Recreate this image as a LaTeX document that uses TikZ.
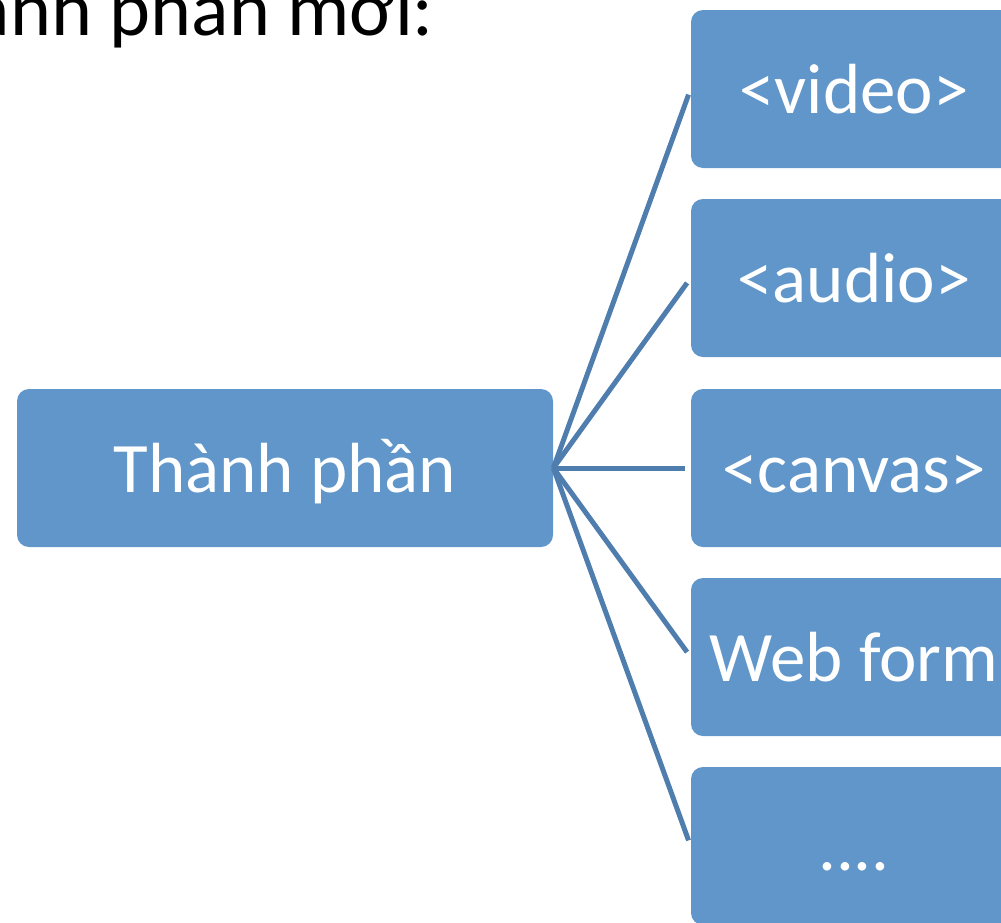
\documentclass[tikz,border=0pt]{standalone}
\usepackage{fontspec}
\setmainfont{Carlito}
\definecolor{boxblue}{RGB}{96,150,201}
\definecolor{linkblue}{RGB}{79,126,174}
\usetikzlibrary{positioning}
\tikzset{%
  item/.style={fill=boxblue, rounded corners=6pt, text=white, inner sep=0pt,
    font=\fontsize{35.5}{40}\selectfont, minimum height=79pt,
    text height=30pt, text depth=6pt},% blue box
  root/.style={item, minimum width=268pt},% left box
  leaf/.style={item, minimum width=163pt},% right boxes
  link/.style={draw=linkblue, line width=2.5pt, shorten >=3pt}% connector
}

\begin{document}
\begin{tikzpicture}[x=0.5pt, y=-0.5pt]
\useasboundingbox (0,0) rectangle (1001,922);
\clip (0,0) rectangle (1001,922);

\node[anchor=base east, font=\fontsize{39}{44}\selectfont] (title) at (441,35) {ành phần mới:};

\node[root] (part) at (285,468) {Thành phần};
\node[leaf] (video) at (854,89) {<video>};
\node[leaf] (audio) at (854,278) {<audio>};
\node[leaf] (canvas) at (854,468) {<canvas>};
\node[leaf] (form) at (854,657) {Web form};
\node[leaf] (more) at (854,846) {....};

\draw[link] (part.east) -- (video.west);
\draw[link] (part.east) -- (audio.west);
\draw[link] (part.east) -- (canvas.west);
\draw[link] (part.east) -- (form.west);
\draw[link] (part.east) -- (more.west);
\end{tikzpicture}
\end{document}
